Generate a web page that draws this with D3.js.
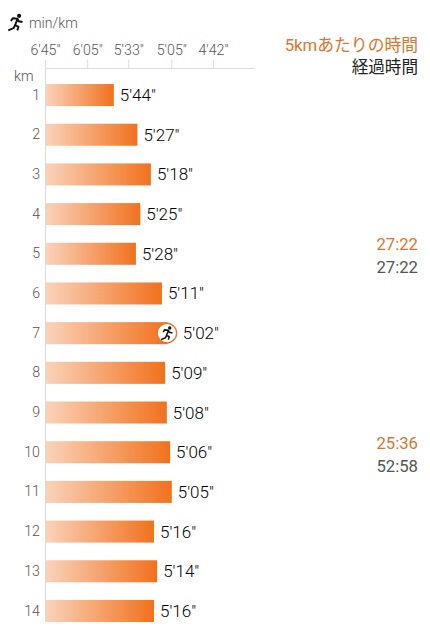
<!DOCTYPE html>
<html><head><meta charset="utf-8">
<script src="https://cdn.jsdelivr.net/npm/d3@7"></script>
<style>html,body{margin:0;padding:0;background:#fff}svg{display:block}text{font-family:Roboto,"Noto Sans CJK JP",sans-serif;font-weight:300}text.r{font-weight:400}</style>
</head><body><div id="c"></div>
<script>
const kmLabels = [1,2,3,4,5,6,7,8,9,10,11,12,13,14];
const paceLabels = ["5'44\"","5'27\"","5'18\"","5'25\"","5'28\"","5'11\"","5'02\"","5'09\"","5'08\"","5'06\"","5'05\"","5'16\"","5'14\"","5'16\""];
const paceSeconds = [344,327,318,325,328,311,302,309,308,306,305,316,314,316];
const tickLabels = ["6'45\"","6'05\"","5'33\"","5'05\"","4'42\""];
const tickSeconds = [405,365,333,305,282];
const splitKm = [5,10];
const splitTimes = ["27:22","25:36"];
const totalTimes = ["27:22","52:58"];
const currentKm = 7;

const W=430,H=640;
const svg=d3.select("#c").append("svg").attr("width",W).attr("height",H);
const speed=s=>3600/s;
const x=d3.scaleLinear().domain([speed(405),speed(282)]).range([45,213]);
const y=d3.scaleBand().domain(kmLabels).range([75.2,630.8]).paddingInner(0.445).paddingOuter(0.2225);
const markerInset=9.5;

const defs=svg.append("defs");
const g=defs.append("linearGradient").attr("id","bar");
g.append("stop").attr("offset","0%").attr("stop-color","#fad3bb");
g.append("stop").attr("offset","100%").attr("stop-color","#f1711d");

// axes
const axisTop=d3.axisTop(x).tickValues(tickSeconds.map(speed)).tickFormat((d,i)=>tickLabels[i]).tickSize(9).tickPadding(5);
const ax=svg.append("g").attr("transform","translate(0,68.5)").call(axisTop);
ax.select(".domain").remove();
ax.selectAll("line").attr("stroke","#dcdcdc");
ax.selectAll("text").attr("fill","#555").attr("font-size",14.2);
ax.append("line").attr("x1",45).attr("x2",255).attr("stroke","#dcdcdc");
svg.append("line").attr("x1",45.5).attr("x2",45.5).attr("y1",68).attr("y2",622).attr("stroke","#dcdcdc");

const axisLeft=d3.axisLeft(y).tickSize(0).tickPadding(5);
const ay=svg.append("g").attr("transform","translate(45,0)").call(axisLeft);
ay.select(".domain").remove();
ay.selectAll("text").attr("fill","#555").attr("font-size",14.2).attr("font-family",null);

// bars
svg.selectAll("rect.b").data(kmLabels).join("rect").attr("class","b")
 .attr("x",45.5).attr("y",d=>y(d)).attr("height",y.bandwidth())
 .attr("width",(d,i)=>x(speed(paceSeconds[i]))-45-(d===currentKm?markerInset:0)).attr("fill","url(#bar)");
svg.selectAll("text.v").data(kmLabels).join("text").attr("class","v")
 .attr("x",(d,i)=>x(speed(paceSeconds[i]))+6.5).attr("y",d=>y(d)+y.bandwidth()/2+6)
 .attr("font-size",17).attr("fill","#000").text((d,i)=>paceLabels[i]);

// runner glyph, 16 x 17 units
function drawRunner(cx,cy,s){
 const r=svg.append("g").attr("transform",`translate(${cx-8*s},${cy-8.5*s}) scale(${s})`);
 r.append("circle").attr("cx",11.6).attr("cy",2).attr("r",2.1).attr("fill","#111");
 r.append("path").attr("d","M3.4 7.2L5.2 4.4L10 4.8L11 7.4L15 8.2M10 5L7.6 11.2L11 13L9.8 16.6M7.6 11.2L6.2 14.2L0.8 16.6")
  .attr("fill","none").attr("stroke","#111").attr("stroke-width",1.9).attr("stroke-linejoin","round");
}
drawRunner(15.5,22.3,1);
svg.append("text").attr("x",29).attr("y",28).attr("font-size",14.2).attr("fill","#555").text("min/km");
svg.append("text").attr("x",14).attr("y",81).attr("font-size",14.2).attr("fill","#555").text("km");

// current marker
const ci=kmLabels.indexOf(currentKm);
const cxm=x(speed(paceSeconds[ci]))-markerInset, cym=y(currentKm)+y.bandwidth()/2;
svg.append("circle").attr("cx",cxm).attr("cy",cym).attr("r",9.8).attr("fill","#fff").attr("stroke","#e8762a").attr("stroke-width",1.5);
drawRunner(cxm,cym,0.8);

// right column
svg.append("text").attr("class","r").attr("x",418).attr("y",51).attr("text-anchor","end").attr("font-size",16.8).attr("fill","#d9772f").text("5kmあたりの時間");
svg.append("text").attr("class","r").attr("x",418).attr("y",73).attr("text-anchor","end").attr("font-size",16.6).attr("fill","#222").text("経過時間");
splitKm.forEach((k,i)=>{
 const cy=y(k)+y.bandwidth()/2;
 svg.append("text").attr("class","r").attr("x",418).attr("y",cy-3.5).attr("text-anchor","end").attr("font-size",16.7).attr("fill","#d9772f").text(splitTimes[i]);
 svg.append("text").attr("class","r").attr("x",418).attr("y",cy+19.5).attr("text-anchor","end").attr("font-size",16.7).attr("fill","#555").text(totalTimes[i]);
});
</script></body></html>
